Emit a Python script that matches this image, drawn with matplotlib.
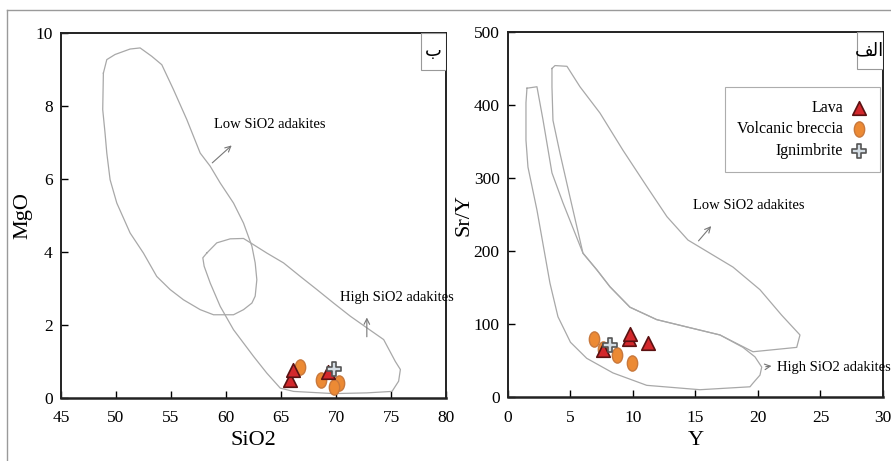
import matplotlib
matplotlib.use("Agg")
import matplotlib.pyplot as plt
from matplotlib.path import Path
from matplotlib.lines import Line2D
from matplotlib.patches import Rectangle

plt.rcParams['font.family'] = ['Liberation Serif', 'DejaVu Sans']

# ---- MgO vs SiO2 (left panel, "ب") ----
low_mgo_sio2 = [48.85, 49.16, 49.91, 51.28, 52.19, 53.25, 54.16, 55.22, 56.43, 57.65,
                58.56, 59.47, 60.68, 61.59, 62.35, 62.65, 62.80, 62.65, 62.35, 61.59,
                60.68, 58.86, 57.65, 56.13, 54.92, 53.70, 52.49, 51.28, 50.07, 49.46,
                49.16, 49.00, 48.79]
low_mgo_mgo = [8.90, 9.27, 9.41, 9.56, 9.59, 9.36, 9.13, 8.45, 7.63, 6.71,
               6.35, 5.89, 5.34, 4.79, 4.16, 3.70, 3.24, 2.79, 2.60, 2.42,
               2.28, 2.28, 2.42, 2.69, 2.97, 3.33, 3.97, 4.52, 5.34, 5.98,
               6.71, 7.26, 7.90]
high_mgo_sio2 = [58.25, 59.16, 60.38, 61.59, 62.50, 63.71, 65.23, 66.75, 68.26, 69.78,
                 71.30, 72.81, 74.33, 75.39, 75.85, 75.69, 75.09, 72.81, 69.78, 66.14,
                 64.93, 63.71, 62.50, 60.68, 59.47, 58.56, 58.01, 57.89]
high_mgo_mgo = [3.97, 4.25, 4.36, 4.37, 4.20, 3.97, 3.70, 3.33, 2.97, 2.60,
                2.24, 1.92, 1.60, 1.00, 0.78, 0.46, 0.18, 0.14, 0.12, 0.18,
                0.27, 0.68, 1.14, 1.87, 2.51, 3.15, 3.61, 3.84]

lava_sio2 = [65.8, 66.1, 69.3]
lava_mgo = [0.50, 0.78, 0.72]
breccia_sio2 = [66.75, 68.6, 70.25, 69.85]
breccia_mgo = [0.84, 0.50, 0.41, 0.30]
ign_sio2 = [69.8]
ign_mgo = [0.80]

# ---- Sr/Y vs Y (right panel, "الف") ----
low_sry_y = [3.52, 3.76, 4.72, 5.76, 7.36, 9.20, 11.12, 12.72, 14.40, 18.00,
             20.16, 21.90, 23.36, 23.10, 19.60, 16.96, 14.30, 11.90, 9.76, 8.16,
             7.12, 6.00, 4.96, 4.16, 3.60, 3.52]
low_sry_sry = [450, 454, 453, 425, 389, 338, 288, 247, 215, 178,
               147, 112, 85, 68, 62, 85, 96, 106, 123, 151,
               174, 197, 274, 334, 379, 425]
high_sry_y = [1.52, 2.32, 2.80, 3.52, 4.40, 6.00, 7.12, 8.16, 9.76, 11.90,
              14.30, 16.96, 18.80, 19.76, 20.30, 20.16, 19.60, 19.36, 15.36, 11.10,
              8.40, 6.30, 5.00, 4.00, 3.36, 2.32, 1.60, 1.44, 1.44]
high_sry_sry = [423, 425, 380, 307, 266, 197, 174, 151, 123, 106,
                96, 85, 68, 55, 41, 30, 19, 14, 10, 16,
                33, 53, 75, 110, 156, 256, 315, 352, 403]

lava_y = [7.6, 9.7, 9.8, 11.2]
lava_sry = [64, 80, 86, 74]
breccia_y = [6.9, 7.6, 8.7, 9.9]
breccia_sry = [79, 66, 57, 47]
ign_y = [8.2]
ign_sry = [71]

field_color = '#a8a8a8'
lava_face, lava_edge = '#d3282c', '#5b1212'
brec_face, brec_edge = '#ec8a34', '#c8783c'
ign_face, ign_edge = '#d4dde4', '#555555'

# tall ellipse marker, as in the source figure
circ = Path.unit_circle()
ellipse = Path(circ.vertices * [0.68, 1.0], circ.codes)

fig = plt.figure(figsize=(8.91, 4.61), dpi=100)
ax1 = fig.add_axes([0.0685, 0.1367, 0.4321, 0.7918])
ax2 = fig.add_axes([0.5701, 0.1388, 0.4209, 0.7918])

# thin frame around the figure (top and left edges visible in source)
fig.add_artist(Line2D([0.008, 1.0], [0.978, 0.978], color='#9a9a9a', lw=1.0))
fig.add_artist(Line2D([0.008, 0.008], [0.0, 0.978], color='#9a9a9a', lw=1.0))


def style_axes(ax):
    for s in ax.spines.values():
        s.set_color('#222222')
        s.set_linewidth(1.4)
    ax.spines['bottom'].set_linewidth(1.8)
    ax.tick_params(direction='in', length=5, width=1.0, labelsize=12.5)
    ax.tick_params(axis='x', pad=9)
    ax.tick_params(axis='y', pad=6)


def draw_points(ax, xl, yl, xb, yb, xi, yi):
    ax.scatter(xb, yb, s=120, marker=ellipse, facecolor=brec_face,
               edgecolor=brec_edge, linewidth=1.0, zorder=3, label='Volcanic breccia')
    ax.scatter(xl, yl, s=95, marker='^', facecolor=lava_face,
               edgecolor=lava_edge, linewidth=1.2, zorder=4, label='Lava')
    ax.scatter(xi, yi, s=100, marker='P', facecolor=ign_face,
               edgecolor=ign_edge, linewidth=1.2, zorder=5, label='Ignimbrite')


def closed(a):
    return list(a) + [a[0]]


def corner_label(ax, text, w):
    ax.add_patch(Rectangle((1 - w, 0.899), w, 0.101, transform=ax.transAxes,
                           fc='white', ec='#999999', lw=0.8, zorder=6))
    ax.text(1 - w / 2, 0.95, text, transform=ax.transAxes, ha='center', va='center',
            family=['DejaVu Sans'], fontsize=13, zorder=7)


arrow = dict(arrowstyle='->', color='#777777', lw=0.8)

# left panel
ax1.plot(closed(low_mgo_sio2), closed(low_mgo_mgo), color=field_color, lw=0.9)
ax1.plot(closed(high_mgo_sio2), closed(high_mgo_mgo), color=field_color, lw=0.9)
draw_points(ax1, lava_sio2, lava_mgo, breccia_sio2, breccia_mgo, ign_sio2, ign_mgo)
ax1.set_xlim(45, 80)
ax1.set_ylim(0, 10)
ax1.set_xticks(range(45, 81, 5))
ax1.set_yticks(range(0, 11, 2))
style_axes(ax1)
ax1.set_xlabel('SiO2', fontsize=16, labelpad=3)
ax1.set_ylabel('MgO', fontsize=16, labelpad=2)
ax1.text(58.9, 7.5, 'Low SiO2 adakites', fontsize=10.5, va='center', ha='left')
ax1.annotate('', xy=(60.7, 6.97), xytext=(58.56, 6.39), arrowprops=arrow)
ax1.text(70.4, 2.76, 'High SiO2 adakites', fontsize=10.5, va='center', ha='left')
ax1.annotate('', xy=(72.8, 2.28), xytext=(72.8, 1.60), arrowprops=arrow)
corner_label(ax1, 'ب', 0.065)

# right panel
ax2.plot(closed(low_sry_y), closed(low_sry_sry), color=field_color, lw=0.9)
ax2.plot(closed(high_sry_y), closed(high_sry_sry), color=field_color, lw=0.9)
draw_points(ax2, lava_y, lava_sry, breccia_y, breccia_sry, ign_y, ign_sry)
ax2.set_xlim(0, 30)
ax2.set_ylim(0, 500)
ax2.set_xticks(range(0, 31, 5))
ax2.set_yticks(range(0, 501, 100))
style_axes(ax2)
ax2.set_xlabel('Y', fontsize=16, labelpad=4)
ax2.set_ylabel('Sr/Y', fontsize=16, labelpad=0)
ax2.text(14.8, 263, 'Low SiO2 adakites', fontsize=10.5, va='center', ha='left')
ax2.annotate('', xy=(16.4, 237), xytext=(15.1, 211), arrowprops=arrow)
ax2.text(21.5, 40, 'High SiO2 adakites', fontsize=10.5, va='center', ha='left')
ax2.annotate('', xy=(21.3, 43), xytext=(20.4, 41), arrowprops=arrow)
corner_label(ax2, '\ufed2\ufedf\ufe8d', 0.07)

handles, labels = ax2.get_legend_handles_labels()
order = [labels.index('Lava'), labels.index('Volcanic breccia'), labels.index('Ignimbrite')]
leg = ax2.legend([handles[i] for i in order], [labels[i] for i in order],
                 loc='upper right', bbox_to_anchor=(0.992, 0.849), borderaxespad=0,
                 markerfirst=False, fontsize=11.5, frameon=True, fancybox=False,
                 borderpad=0.8, handletextpad=0.5, labelspacing=0.35,
                 handlelength=1.0, scatterpoints=1)
leg.get_frame().set_edgecolor('#999999')
leg.get_frame().set_linewidth(0.8)

fig.savefig('out.png', dpi=100)
